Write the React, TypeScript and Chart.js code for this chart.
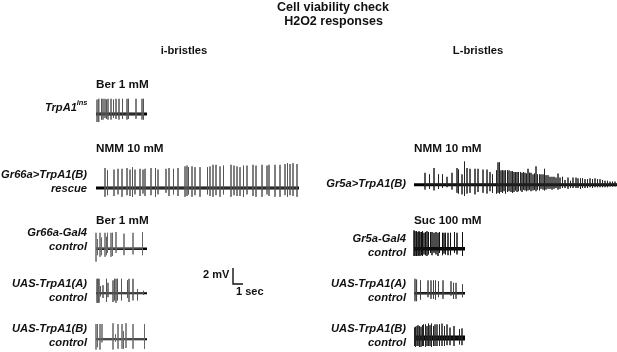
import React, { useEffect, useRef } from "react";
import { Chart, registerables } from "chart.js";

Chart.register(...registerables);

// Each spike: [time in s from trace start, upward peak in mV, downward peak in mV]
type Spike = number[];

const trpA1insSpikes: Spike[] = [
  [0.1,1.8,1.0],[0.25,1.8,1.0],[0.3,1.9,0.9],[0.55,1.9,0.7],[0.7,1.9,0.7],[0.9,1.9,0.5],[1.05,1.8,0.6],[1.2,1.9,0.7],
  [1.5,1.9,0.7],[1.75,1.8,0.5],[2.0,1.9,0.6],[2.3,1.9,0.7],[2.65,1.9,0.6],[3.1,1.9,0.7],[3.25,1.9,0.6],[4.0,1.9,0.6],[4.6,1.9,0.7],[4.75,1.9,0.7],
];
const gr66aRescueSpikes: Spike[] = [
  [0.9,2.5,1.1],[1.15,2.2,0.9],[1.8,2.3,1.0],[2.2,2.4,0.8],[2.6,2.4,1.1],[3.1,2.5,0.9],[3.4,2.3,1.0],[3.65,2.6,1.1],[3.9,2.3,0.8],
  [4.4,2.4,1.0],[4.7,2.3,0.7],[4.9,2.4,1.0],[5.5,2.5,0.9],[5.95,2.5,1.1],[6.2,2.3,0.8],[7.0,2.4,0.6],[7.3,2.5,1.0],[7.75,2.4,0.8],
  [8.2,2.5,1.0],[8.9,2.7,1.1],[9.1,2.8,1.0],[9.25,2.6,0.8],[9.6,2.7,1.1],[9.9,2.6,0.9],[10.4,2.6,1.1],[11.15,2.6,0.8],[11.4,2.7,1.0],
  [11.7,2.9,1.1],[12.0,2.9,0.9],[12.4,2.7,1.1],[12.75,2.8,0.8],[13.5,2.9,1.1],[13.8,2.8,0.9],[14.1,2.7,1.0],[14.4,2.6,1.0],[14.75,2.8,1.1],
  [15.1,2.8,0.8],[15.7,2.9,1.0],[16.0,2.8,1.1],[16.6,2.9,1.1],[17.1,2.8,0.8],[17.3,2.9,1.0],[17.9,2.9,1.1],[18.4,2.9,1.1],[18.9,3.0,0.9],
  [19.15,3.1,1.1],[19.4,3.0,0.9],[19.7,3.1,1.0],[20.1,3.0,1.1],
];
const gr66aGal4Spikes: Spike[] = [
  [0.0,2.0,1.6],[0.15,1.2,0.8],[0.4,2.0,1.0],[0.55,1.4,0.8],[0.9,2.0,1.0],[1.05,1.5,0.8],[1.15,2.0,0.5],[1.5,2.0,1.0],[1.65,2.0,0.9],
  [2.0,2.1,0.5],[2.8,1.9,0.8],[3.7,2.0,0.7],[4.65,2.1,0.8],
];
const uasAiSpikes: Spike[] = [
  [0.1,1.8,1.2],[0.2,1.8,1.2],[0.3,1.8,1.2],[0.45,0.9,0.4],[0.7,1.0,0.6],[1.05,1.8,1.1],[1.2,1.3,0.5],[1.7,1.6,1.1],[1.85,1.8,0.9],
  [2.0,1.8,1.2],[2.15,1.8,0.9],[2.55,1.8,0.9],[3.15,1.6,0.6],[3.3,1.8,1.1],[3.7,1.8,0.9],[4.15,0.5,0.9],[4.75,0.3,0.2],
];
const uasBiSpikes: Spike[] = [
  [0.0,1.9,1.3],[0.15,1.9,1.0],[0.4,1.9,1.3],[0.6,1.9,0.4],[1.7,2.0,1.3],[1.95,0.6,0.3],[2.2,1.9,1.2],[2.6,1.9,1.2],[2.75,1.0,1.2],
  [3.0,2.0,1.1],[3.7,1.9,1.2],[4.85,1.9,1.2],
];
const gr5aRescueSpikes: Spike[] = [
  [1.1,1.5,0.6],[1.55,1.3,0.5],[2.0,2.1,0.7],[2.45,1.3,0.5],[2.85,1.3,0.4],[3.3,1.0,0.3],[3.8,1.5,0.6],[4.3,2.1,1.0],[4.45,1.9,1.1],[4.8,1.3,1.2],
  [5.05,2.9,1.4],[5.3,2.1,1.1],[5.6,2.0,1.0],[6.1,2.0,1.2],[6.4,2.0,0.9],[6.9,1.9,1.0],[7.3,1.9,1.1],[7.6,1.6,0.8],[7.85,1.3,1.0],
  [8.25,1.8,1.1],[8.4,2.8,1.0],[8.55,2.8,1.1],[8.7,1.8,0.9],[8.85,1.8,1.0],[9.0,1.8,0.8],[9.15,1.8,1.1],[9.35,1.8,0.9],[9.5,1.8,0.8],
  [9.7,1.7,0.9],[9.85,1.7,1.0],[10.0,1.6,0.9],[10.15,1.6,0.7],[10.3,1.6,0.9],[10.45,1.6,0.8],[10.65,1.6,0.7],[10.8,1.5,0.9],[10.95,1.6,0.6],
  [11.1,1.5,0.7],[11.25,1.4,0.8],[11.4,2.0,0.7],[11.55,1.5,0.6],[11.7,1.5,0.8],[11.9,1.3,0.7],[12.05,1.4,0.6],[12.2,2.3,0.8],[12.35,1.3,0.6],
  [12.55,1.3,0.7],[12.7,1.3,0.5],[12.9,1.3,0.6],[13.05,2.0,0.7],[13.2,1.2,0.6],[13.4,1.2,0.5],[13.6,1.0,0.5],[13.8,1.0,0.6],[14.0,1.0,0.5],
  [14.2,0.9,0.4],[14.4,1.4,0.6],[14.6,0.9,0.5],[14.85,1.0,0.4],[15.1,0.6,0.4],[15.4,0.9,0.5],[15.65,0.5,0.4],[15.9,0.9,0.4],[16.2,0.9,0.4],
  [16.4,0.8,0.4],[16.65,0.8,0.5],[16.85,0.8,0.4],[17.1,0.7,0.4],[17.35,0.7,0.4],[17.6,0.8,0.3],[17.85,0.7,0.4],[18.1,0.8,0.3],[18.35,0.7,0.3],
  [18.6,0.7,0.3],[18.85,0.6,0.3],[19.1,0.5,0.3],[19.35,0.5,0.3],[19.6,0.4,0.2],[19.85,0.4,0.2],[20.1,0.4,0.2],[20.35,0.4,0.2],
];
const gr5aGal4Spikes: Spike[] = [
  [0.0,2.3,0.9],[0.1,2.2,0.9],[0.2,2.1,0.9],[0.3,2.2,0.8],[0.4,2.1,0.9],[0.5,2.2,0.8],[0.6,2.1,0.9],[0.75,2.1,0.8],[0.85,2.2,0.9],[1.0,2.0,0.7],
  [1.15,2.1,0.8],[1.3,2.2,0.9],[1.45,2.1,0.7],[1.65,2.1,0.5],[1.8,2.1,0.8],[2.0,2.0,0.5],[2.2,2.1,0.7],[2.4,2.0,0.9],[2.55,2.1,0.5],[2.85,2.0,0.8],
  [3.0,2.0,0.6],[3.15,2.0,0.7],[3.4,2.0,0.8],[3.65,2.0,0.8],[4.05,2.1,0.5],[4.3,2.0,0.7],[4.85,2.1,0.9],
];
const uasArSpikes: Spike[] = [
  [0.1,1.8,1.0],[0.2,1.7,1.0],[0.3,1.7,1.0],[0.65,1.6,0.8],[1.4,1.6,0.5],[1.7,1.6,0.7],[1.95,1.6,0.7],[2.15,1.6,0.8],[2.45,1.5,0.5],
  [2.9,1.6,0.7],[3.7,1.5,0.3],[3.95,1.3,0.7],[4.2,1.3,0.7],[4.85,1.1,0.5],
];
const uasBrSpikes: Spike[] = [
  [0.05,1.3,1.0],[0.15,1.4,1.1],[0.3,1.5,1.0],[0.4,1.6,1.0],[0.55,1.5,1.1],[0.7,1.4,1.1],[0.85,1.6,1.0],[0.95,1.7,1.0],[1.15,1.7,1.1],[1.3,1.5,1.0],
  [1.45,1.8,1.0],[1.6,1.6,1.0],[1.75,1.8,1.1],[1.95,1.5,1.0],[2.1,1.7,1.0],[2.3,1.7,1.0],[2.55,1.7,1.0],[2.8,1.8,1.0],[3.05,1.5,1.0],[3.3,1.7,0.9],
  [3.6,1.3,0.9],[4.0,1.5,1.0],[4.55,1.1,0.8],[4.8,1.2,0.9],
];

// Trace start in seconds and baseline in mV on the page-wide axes
const traceStarts = [9.6, 9.6, 9.6, 9.6, 9.6, 41.4, 41.4, 41.4, 41.4];
const traceBaselines = [29.75, 20.5, 12.9, 7.35, 1.6, 20.9, 12.9, 7.35, 1.75];
const traceDurations = [5.1, 20.3, 5.1, 5.1, 5.1, 20.3, 5.1, 5.1, 5.1];
const traceSpikes = [trpA1insSpikes, gr66aRescueSpikes, gr66aGal4Spikes, uasAiSpikes, uasBiSpikes, gr5aRescueSpikes, gr5aGal4Spikes, uasArSpikes, uasBrSpikes];
const baselineWidths = [3, 3, 2.4, 2, 2, 3, 3.5, 2.6, 5];
const spikeColors = ["#555", "#555", "#666", "#555", "#666", "#222", "#111", "#444", "#222"];

// scale bar
const scaleBarSeconds = 1;
const scaleBarMillivolts = 2;

const titleLines = ["Cell viability check", "H2O2 responses"];
const columnHeads = ["i-bristles", "L-bristles"];
const stimLabels = ["Ber 1 mM", "NMM 10 mM", "Ber 1 mM", "NMM 10 mM", "Suc 100 mM"];
const rowLabels = ["Gr66a>TrpA1(B)", "rescue", "Gr66a-Gal4", "control", "UAS-TrpA1(A)", "control", "UAS-TrpA1(B)", "control", "Gr5a>TrpA1(B)", "Gr5a-Gal4", "control", "UAS-TrpA1(A)", "control", "UAS-TrpA1(B)", "control"];

const WIDTH = 617;
const HEIGHT = 352;
const FONT = '"Liberation Sans", Arial, sans-serif';

const textPlugin = {
  id: "figureText",
  afterDraw(chart: any) {
    const c = chart.ctx;
    c.save();
    c.fillStyle = "#111";
    c.textBaseline = "middle";
    const put = (s: string, x: number, y: number, align: CanvasTextAlign, font: string) => {
      c.font = font;
      c.textAlign = align;
      c.fillText(s, x, y);
    };
    const head = `bold 12.5px ${FONT}`;
    const sub = `bold 11.2px ${FONT}`;
    const bold = `bold 11.7px ${FONT}`;
    const ital = `italic bold 11.2px ${FONT}`;
    put(titleLines[0], 333, 7.5, "center", head);
    put(titleLines[1], 333.5, 22, "center", head);
    put(columnHeads[0], 184, 51, "center", sub);
    put(columnHeads[1], 478, 51, "center", sub);
    [[96, 85], [96, 149], [96, 220.5], [414, 149], [414, 220.5]].forEach(([x, y], i) => put(stimLabels[i], x, y, "left", bold));
    const ys = [175, 189, 233, 246.5, 284, 298, 329, 343];
    ys.forEach((y, i) => put(rowLabels[i], 87, y, "right", ital));
    const yr = [184, 239, 253, 283.5, 298, 329, 343];
    yr.forEach((y, i) => put(rowLabels[i + 8], 406, y, "right", ital));
    put("TrpA1", 77, 107.5, "right", ital);
    put("ins", 87.5, 103, "right", `italic bold 7.5px ${FONT}`);
    put("2 mV", 203, 275, "left", `bold 11px ${FONT}`);
    put("1 sec", 236, 292, "left", `bold 11px ${FONT}`);
    c.restore();
  },
};

export default function App() {
  const ref = useRef<HTMLCanvasElement>(null);
  useEffect(() => {
    const datasets: any[] = [];
    traceSpikes.forEach((spikes, i) => {
      const start = traceStarts[i];
      const base = traceBaselines[i];
      const pts: { x: number; y: number }[] = [];
      spikes.forEach(([t, up, down]) => {
        pts.push({ x: start + t, y: base });
        pts.push({ x: start + t, y: base + up });
        pts.push({ x: start + t, y: base - down });
        pts.push({ x: start + t, y: base });
      });
      datasets.push({ data: pts, showLine: true, pointRadius: 0, borderColor: spikeColors[i], borderWidth: 1, borderCapStyle: "butt" });
      datasets.push({
        data: [{ x: start, y: base }, { x: start + traceDurations[i], y: base }],
        showLine: true, pointRadius: 0, borderColor: "#000", borderWidth: baselineWidths[i],
      });
    });
    const bx = 23.3;
    const by = 8.5;
    datasets.push({
      data: [{ x: bx, y: by + scaleBarMillivolts }, { x: bx, y: by }, { x: bx + scaleBarSeconds, y: by }],
      showLine: true, pointRadius: 0, borderColor: "#111", borderWidth: 1.4,
    });
    const chart = new Chart(ref.current!, {
      type: "scatter",
      data: { datasets },
      plugins: [textPlugin],
      options: {
        animation: false,
        responsive: false,
        layout: { padding: 0 },
        plugins: { legend: { display: false }, tooltip: { enabled: false }, title: { display: false } },
        scales: {
          x: { type: "linear", display: false, min: 0, max: WIDTH / 10 },
          y: { type: "linear", display: false, min: 0, max: HEIGHT / 8 },
        },
      },
    } as any);
    return () => chart.destroy();
  }, []);
  return (
    <div style={{ position: "absolute", left: 0, top: 0, width: WIDTH, height: HEIGHT, background: "#fff" }}>
      <canvas ref={ref} width={WIDTH} height={HEIGHT} style={{ display: "block", filter: "blur(0.35px)" }} />
    </div>
  );
}
